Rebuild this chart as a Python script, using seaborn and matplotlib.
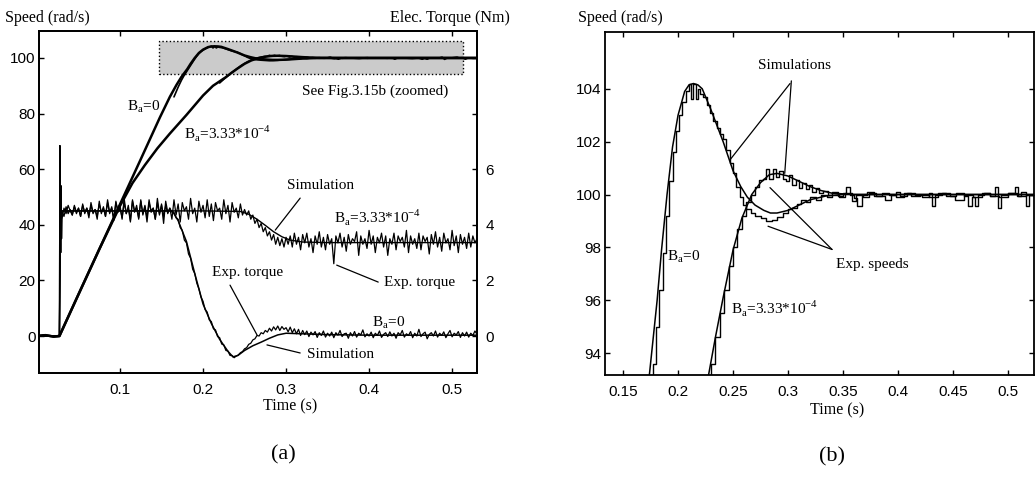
import numpy as np
import matplotlib
matplotlib.use('Agg')
import matplotlib.pyplot as plt
import seaborn as sns
from matplotlib.patches import Rectangle

# ---------------- data ----------------
# speed, simulation, B=0 (rad/s)
sim_t_b0 = [0.0, 0.01, 0.02, 0.027, 0.05, 0.075, 0.1, 0.125, 0.148, 0.16,
            0.168, 0.174, 0.181, 0.185, 0.19, 0.195, 0.2, 0.206, 0.21, 0.214,
            0.218, 0.222, 0.23, 0.241, 0.25, 0.257, 0.263, 0.27, 0.278, 0.284,
            0.29, 0.3, 0.31, 0.32, 0.335, 0.35, 0.4, 0.53]
sim_v_b0 = [0.0, 0.3, -0.2, 0.0, 15.0, 31.2, 47.4, 63.6, 78.6, 86.0,
            90.3, 93.2, 96.0, 97.9, 100.0, 101.8, 103.0, 103.9, 104.15, 104.2,
            104.15, 104.0, 103.2, 102.0, 100.9, 100.3, 99.9, 99.6, 99.4, 99.3,
            99.3, 99.4, 99.6, 99.8, 99.95, 100.0, 100.0, 100.0]

# speed, simulation, B=3.33e-4
sim_t_b3 = [0.0, 0.01, 0.02, 0.027, 0.05, 0.075, 0.1, 0.115, 0.13, 0.145,
            0.16, 0.18, 0.2, 0.212, 0.22, 0.227, 0.234, 0.241, 0.25, 0.258,
            0.267, 0.275, 0.283, 0.29, 0.3, 0.31, 0.32, 0.33, 0.34, 0.36,
            0.4, 0.53]
sim_v_b3 = [0.0, 0.3, -0.2, 0.0, 15.0, 31.2, 46.8, 55.0, 61.5, 67.5,
            72.8, 79.5, 86.5, 90.0, 91.6, 93.0, 94.6, 96.1, 97.9, 99.1,
            100.0, 100.45, 100.75, 100.8, 100.7, 100.5, 100.3, 100.15, 100.05, 100.0,
            100.0, 100.0]

# speed, experiment, B=0 (quantised encoder steps)
exp_t_b0 = [0.165, 0.170, 0.174, 0.177, 0.180, 0.183, 0.186, 0.189, 0.192, 0.195,
            0.198, 0.201, 0.204, 0.207, 0.210, 0.212, 0.214, 0.216, 0.218, 0.220,
            0.223, 0.226, 0.229, 0.232, 0.235, 0.238, 0.241, 0.244, 0.247, 0.250,
            0.253, 0.256, 0.259, 0.262, 0.266, 0.270, 0.275, 0.280, 0.285, 0.290,
            0.295, 0.300, 0.304, 0.308, 0.312, 0.316, 0.320, 0.325, 0.330, 0.335,
            0.340, 0.346, 0.352, 0.358, 0.362, 0.368, 0.374, 0.380, 0.388, 0.394,
            0.398, 0.405, 0.412, 0.420, 0.428, 0.436, 0.444, 0.452, 0.460, 0.468,
            0.476, 0.484, 0.492, 0.500, 0.508, 0.516, 0.524, 0.530]
exp_v_b0 = [86.0, 89.5, 92.0, 93.6, 95.0, 96.4, 97.8, 99.2, 100.5, 101.6,
            102.4, 103.0, 103.5, 103.9, 104.2, 103.6, 104.2, 103.6, 104.0, 103.8,
            103.7, 103.4, 103.1, 102.8, 102.5, 102.3, 102.1, 101.7, 101.2, 100.8,
            100.3, 99.9, 99.6, 99.45, 99.3, 99.2, 99.1, 99.0, 99.05, 99.15,
            99.3, 99.45, 99.5, 99.65, 99.8, 99.7, 99.9, 99.8, 100.0, 99.9,
            100.0, 99.9, 100.05, 99.75, 100.0, 99.9, 100.05, 99.95, 99.8, 100.0,
            99.9, 100.05, 99.95, 100.0, 99.9, 100.05, 99.95, 99.8, 100.0, 99.9,
            100.05, 99.95, 99.9, 100.05, 99.95, 100.0, 99.9, 99.95]

# speed, experiment, B=3.33e-4
exp_t_b3 = [0.220, 0.226, 0.230, 0.234, 0.238, 0.242, 0.246, 0.250, 0.254, 0.258,
            0.262, 0.266, 0.270, 0.274, 0.277, 0.280, 0.283, 0.286, 0.289, 0.292,
            0.295, 0.298, 0.301, 0.304, 0.307, 0.310, 0.313, 0.316, 0.319, 0.322,
            0.325, 0.328, 0.332, 0.336, 0.340, 0.345, 0.350, 0.353, 0.356, 0.360,
            0.363, 0.367, 0.372, 0.378, 0.385, 0.392, 0.398, 0.402, 0.408, 0.415,
            0.422, 0.428, 0.431, 0.434, 0.440, 0.447, 0.453, 0.460, 0.464, 0.467,
            0.470, 0.473, 0.478, 0.484, 0.488, 0.491, 0.494, 0.500, 0.506, 0.509,
            0.512, 0.516, 0.519, 0.524, 0.530]
exp_v_b3 = [91.0, 92.6, 93.6, 94.6, 95.5, 96.4, 97.3, 98.0, 98.7, 99.2,
            99.7, 100.0, 100.3, 100.55, 100.6, 100.95, 100.6, 100.95, 100.65, 100.9,
            100.6, 100.5, 100.75, 100.35, 100.55, 100.25, 100.45, 100.2, 100.35, 100.1,
            100.25, 100.05, 100.15, 100.0, 100.1, 99.95, 100.05, 100.3, 100.0, 99.85,
            99.55, 100.0, 100.1, 99.95, 100.05, 100.0, 100.1, 99.95, 100.05, 100.0,
            99.9, 100.05, 99.55, 100.0, 100.05, 99.95, 100.05, 99.95, 99.55, 99.9,
            99.55, 100.0, 100.05, 99.95, 100.3, 99.5, 100.0, 100.05, 100.3, 99.95,
            100.1, 99.55, 100.0, 100.05, 100.0]

# electrical torque (Nm): start-up transient before the sampled record
torque_t_start = [0.0, 0.01, 0.02, 0.026, 0.027, 0.0275, 0.0285, 0.029, 0.0295]
torque_v_start = [0.0, 0.02, -0.02, 0.0, 0.0, 6.85, 3.0, 5.4, 3.5]

# measured torque, sampled every 2.5 ms from t = 0.030 s
torque_dt = 0.0025
torque_t0 = 0.030
torque_exp_b0 = [
    # 0.030 - 0.1625 : current limit
    4.2, 4.6, 4.4, 4.7, 4.5, 4.35, 4.65, 4.4, 4.6, 4.3,
    4.7, 4.45, 4.6, 4.35, 4.7, 4.4, 4.55, 4.3, 4.75, 4.45,
    4.6, 4.3, 4.8, 4.4, 4.65, 4.2, 4.85, 4.45, 4.6, 4.25,
    4.8, 4.4, 4.7, 4.15, 4.9, 4.5, 4.6, 4.2, 4.85, 4.4,
    4.7, 4.25, 4.9, 4.45, 4.6, 4.2, 4.8, 4.35, 4.75, 4.3,
    4.7, 4.4, 4.6, 4.45,
    # 0.165 - 0.2375 : fall
    4.45, 4.25, 4.2, 3.9, 3.8, 3.45, 3.35, 2.95, 2.8, 2.4,
    2.25, 1.9, 1.7, 1.4, 1.25, 0.95, 0.86, 0.58, 0.52, 0.26,
    0.22, -0.02, -0.06, -0.29, -0.32, -0.52, -0.54, -0.7, -0.7, -0.78,
    # 0.240 - 0.2975 : recovery
    -0.72, -0.68, -0.6, -0.56, -0.46, -0.42, -0.3, -0.26, -0.14, -0.1,
    0.02, 0.0, 0.12, 0.08, 0.2, 0.14, 0.28, 0.18, 0.33, 0.22,
    0.36, 0.2, 0.34, 0.24,
    # 0.300 - 0.530 : steady state
    0.3, 0.15, 0.32, 0.12, 0.26, 0.08, 0.24, 0.02, 0.2, 0.05,
    0.18, -0.02, 0.14, 0.04, 0.16, -0.05, 0.12, 0.02, 0.18, -0.04,
    0.1, 0.0, 0.14, -0.06, 0.12, 0.03, 0.2, -0.02, 0.08, 0.1,
    -0.08, 0.12, 0.0, 0.16, -0.04, 0.1, 0.04, 0.22, -0.03, 0.08,
    0.0, 0.14, -0.06, 0.1, 0.02, 0.18, -0.05, 0.06, 0.12, -0.02,
    0.15, 0.0, 0.1, -0.08, 0.12, 0.04, 0.2, -0.04, 0.08, 0.02,
    0.16, -0.06, 0.1, 0.0, 0.24, -0.02, 0.08, 0.14, -0.1, 0.06,
    0.12, 0.0, 0.18, -0.04, 0.1, 0.02, 0.15, -0.06, 0.08, 0.2,
    -0.03, 0.1, 0.04, 0.16, -0.05, 0.12, 0.0, 0.14, -0.04, 0.1,
    0.02, 0.18, 0.06]
torque_exp_b3 = [
    # 0.030 - 0.250 : current limit
    4.5, 4.3, 4.65, 4.4, 4.55, 4.35, 4.7, 4.45, 4.6, 4.3,
    4.75, 4.4, 4.6, 4.25, 4.8, 4.45, 4.55, 4.2, 4.85, 4.4,
    4.65, 4.3, 4.9, 4.45, 4.6, 4.15, 4.8, 4.5, 4.7, 4.2,
    4.95, 4.4, 4.6, 4.1, 4.85, 4.45, 4.7, 4.25, 4.9, 4.35,
    4.65, 4.1, 4.8, 4.5, 4.6, 4.2, 4.95, 4.4, 4.7, 4.05,
    4.85, 4.45, 4.6, 4.2, 4.9, 4.35, 4.75, 4.1, 4.8, 4.5,
    4.65, 4.2, 4.95, 4.4, 4.6, 4.1, 4.85, 4.45, 4.7, 4.25,
    4.9, 4.3, 4.75, 4.15, 4.8, 4.5, 4.6, 4.2, 4.9, 4.4,
    4.7, 4.1, 4.8, 4.45, 4.6, 4.25, 4.75, 4.35, 4.55,
    # 0.2525 - 0.3025 : fall to load torque
    4.35, 4.5, 4.2, 4.35, 4.05, 4.2, 3.9, 4.05, 3.75, 3.9,
    3.6, 3.75, 3.45, 3.65, 3.3, 3.55, 3.25, 3.5, 3.2, 3.55, 3.3,
    # 0.305 - 0.530 : steady state
    3.6, 3.2, 3.7, 3.3, 3.55, 3.1, 3.65, 3.35, 3.7, 3.2,
    3.5, 3.0, 3.6, 3.3, 3.75, 3.2, 3.55, 3.1, 3.65, 3.3,
    3.5, 2.6, 3.6, 3.35, 3.7, 3.2, 3.55, 3.05, 3.65, 3.3,
    3.5, 3.4, 3.75, 2.9, 3.6, 3.3, 3.5, 3.15, 3.8, 3.3,
    3.6, 3.0, 3.55, 3.35, 3.7, 3.2, 3.6, 2.9, 3.5, 3.3,
    3.7, 3.1, 3.6, 3.4, 3.55, 3.2, 3.8, 3.0, 3.6, 3.3,
    3.5, 3.15, 3.7, 3.1, 3.6, 3.4, 3.55, 2.95, 3.65, 3.3,
    3.75, 3.2, 3.55, 3.05, 3.7, 3.35, 3.5, 3.1, 3.8, 3.25,
    3.6, 3.0, 3.65, 3.3, 3.55, 3.15, 3.7, 3.2, 3.6, 3.35,
    3.5]

# simulated torque
torque_sim_t_b0 = [0.0, 0.027, 0.0285, 0.03, 0.1, 0.163, 0.17, 0.18, 0.19, 0.2,
                   0.21, 0.22, 0.23, 0.236, 0.242, 0.25, 0.26, 0.27, 0.28, 0.29,
                   0.3, 0.32, 0.35, 0.4, 0.53]
torque_sim_v_b0 = [0.0, 0.0, 4.5, 4.5, 4.5, 4.5, 4.15, 3.4, 2.25, 1.15,
                   0.45, -0.12, -0.55, -0.75, -0.7, -0.52, -0.35, -0.22, -0.08, 0.04,
                   0.1, 0.08, 0.05, 0.03, 0.03]
torque_sim_t_b3 = [0.0, 0.027, 0.0285, 0.1, 0.2, 0.245, 0.255, 0.265, 0.275, 0.285,
                   0.295, 0.305, 0.32, 0.35, 0.53]
torque_sim_v_b3 = [0.0, 0.0, 4.5, 4.5, 4.5, 4.48, 4.38, 4.2, 3.98, 3.75,
                   3.57, 3.45, 3.38, 3.36, 3.36]

ticks_a = [0.1, 0.2, 0.3, 0.4, 0.5]
speed_ticks_a = [0, 20, 40, 60, 80, 100]
torque_ticks = [0, 2, 4, 6, 8, 10]
torque_labels = ['0', '2', '4', '6', '', '']
ticks_b = [0.15, 0.2, 0.25, 0.3, 0.35, 0.4, 0.45, 0.5]
tick_labels_b = ['0.15', '0.2', '0.25', '0.3', '0.35', '0.4', '0.45', '0.5']
speed_ticks_b = [94, 96, 98, 100, 102, 104]

# ---------------- style ----------------
sns.set_theme(style='ticks')
plt.rcParams['font.family'] = ['Liberation Sans', 'DejaVu Sans']
plt.rcParams.update({
    'axes.edgecolor': 'black', 'axes.linewidth': 1.3,
    'xtick.color': 'black', 'ytick.color': 'black',
    'xtick.direction': 'in', 'ytick.direction': 'in',
    'xtick.major.size': 3.5, 'ytick.major.size': 3.5,
    'xtick.major.width': 1.0, 'ytick.major.width': 1.0,
    'xtick.labelsize': 11, 'ytick.labelsize': 11,
    'text.color': 'black',
})
SERIF = ['Liberation Serif', 'DejaVu Serif']


def curve(ax, t, v, lw, **kw):
    sns.lineplot(x=t, y=v, ax=ax, color='black', lw=lw, estimator=None,
                 sort=False, legend=False, **kw)


def note(ax, x, y, s, size=11, ha='center'):
    ax.text(x, y, s, fontsize=size, family=SERIF, ha=ha, va='center')


def leader(ax, start, end):
    ax.annotate('', xy=end, xytext=start,
                arrowprops=dict(arrowstyle='-', lw=0.9, color='black',
                                shrinkA=0, shrinkB=0))


W, H = 1036, 478
fig = plt.figure(figsize=(W / 100, H / 100), dpi=100)

# ---------------- (a) full run-up ----------------
ax_a = fig.add_axes([39 / W, 105 / H, 438 / W, 342 / H])
ax_t = ax_a.twinx()

torque_t_b0 = torque_t_start + list(torque_t0 + torque_dt * np.arange(len(torque_exp_b0)))
torque_t_b3 = torque_t_start + list(torque_t0 + torque_dt * np.arange(len(torque_exp_b3)))

ax_a.add_patch(Rectangle((0.147, 94.2), 0.366, 11.9, facecolor='#cbcbcb',
                         edgecolor='black', linestyle=':', lw=1.0, zorder=1))
curve(ax_a, sim_t_b0, sim_v_b0, 1.8, zorder=3)
curve(ax_a, sim_t_b3, sim_v_b3, 1.8, zorder=3)
curve(ax_a, exp_t_b0, exp_v_b0, 1.2, zorder=3)
curve(ax_a, exp_t_b3, exp_v_b3, 1.2, zorder=3)

curve(ax_t, torque_t_b0, torque_v_start + torque_exp_b0, 0.9)
curve(ax_t, torque_t_b3, torque_v_start + torque_exp_b3, 0.9)
curve(ax_t, torque_sim_t_b0, torque_sim_v_b0, 1.1)
curve(ax_t, torque_sim_t_b3, torque_sim_v_b3, 1.0)

ax_a.set_xlim(0.0024, 0.53)
ax_a.set_ylim(-13.3, 109.7)
ax_t.set_ylim(-1.33, 10.97)
ax_a.set_xticks(ticks_a)
ax_a.set_xticklabels([f'{v:g}' for v in ticks_a])
ax_a.set_yticks(speed_ticks_a)
ax_t.set_yticks(torque_ticks)
ax_t.set_yticklabels(torque_labels)
ax_a.tick_params(axis='x', top=True, pad=7)
ax_a.tick_params(axis='y', right=False, pad=2.5)
ax_t.tick_params(axis='y', right=True, direction='in', pad=6)
ax_a.set_xlabel('')
ax_a.set_ylabel('')
ax_t.set_ylabel('')

sub_a = r'B$_\mathregular{a}$'
note(ax_a, 0.129, 82.4, sub_a + '=0')
note(ax_a, 0.230, 73.0, sub_a + r'=3.33*10$^\mathregular{-4}$')
note(ax_a, 0.407, 88.1, 'See Fig.3.15b (zoomed)')
note(ax_a, 0.341, 54.3, 'Simulation')
note(ax_a, 0.410, 42.8, sub_a + r'=3.33*10$^\mathregular{-4}$')
note(ax_a, 0.461, 19.1, 'Exp. torque')
note(ax_a, 0.254, 22.7, 'Exp. torque')
note(ax_a, 0.424, 4.7, sub_a + '=0')
note(ax_a, 0.366, -6.8, 'Simulation')
leader(ax_a, (0.317, 49.6), (0.287, 38.1))
leader(ax_a, (0.411, 19.4), (0.361, 25.5))
leader(ax_a, (0.2325, 18.3), (0.265, 0.4))
leader(ax_a, (0.317, -6.1), (0.277, -3.2))

fig.text(5 / W, 1 - 22 / H, 'Speed (rad/s)', fontsize=11.5, family=SERIF, va='baseline')
fig.text(510 / W, 1 - 22 / H, 'Elec. Torque (Nm)', fontsize=11.5, family=SERIF,
         va='baseline', ha='right')
fig.text(290 / W, 1 - 406 / H, 'Time (s)', fontsize=11.5, family=SERIF,
         ha='center', va='center')
fig.text(283 / W, 1 - 455 / H, '(a)', fontsize=16, family=SERIF,
         ha='center', va='center')

# ---------------- (b) zoom on the settling ----------------
ax_b = fig.add_axes([605 / W, 103 / H, 429 / W, 343 / H])
curve(ax_b, sim_t_b0, sim_v_b0, 1.1)
curve(ax_b, sim_t_b3, sim_v_b3, 1.1)
curve(ax_b, exp_t_b0, exp_v_b0, 1.0, drawstyle='steps-post')
curve(ax_b, exp_t_b3, exp_v_b3, 1.0, drawstyle='steps-post')

ax_b.set_xlim(0.1336, 0.5236)
ax_b.set_ylim(93.17, 106.15)
ax_b.set_xticks(ticks_b)
ax_b.set_xticklabels(tick_labels_b)
ax_b.set_yticks(speed_ticks_b)
ax_b.tick_params(axis='x', top=True, pad=7)
ax_b.tick_params(axis='y', right=True, pad=2.5)
ax_b.set_xlabel('')
ax_b.set_ylabel('')

note(ax_b, 0.3055, 104.87, 'Simulations')
leader(ax_b, (0.3018, 104.2), (0.247, 101.3))
leader(ax_b, (0.3030, 104.3), (0.297, 100.8))
note(ax_b, 0.377, 97.36, 'Exp. speeds')
leader(ax_b, (0.340, 97.92), (0.2836, 100.26))
leader(ax_b, (0.340, 97.92), (0.2818, 98.8))
note(ax_b, 0.2055, 97.66, sub_a + '=0')
note(ax_b, 0.288, 95.7, sub_a + r'=3.33*10$^\mathregular{-4}$')

fig.text(578 / W, 1 - 22 / H, 'Speed (rad/s)', fontsize=11.5, family=SERIF, va='baseline')
fig.text(837 / W, 1 - 410 / H, 'Time (s)', fontsize=11.5, family=SERIF,
         ha='center', va='center')
fig.text(832 / W, 1 - 457 / H, '(b)', fontsize=16, family=SERIF,
         ha='center', va='center')

fig.savefig('out.png', dpi=100)
